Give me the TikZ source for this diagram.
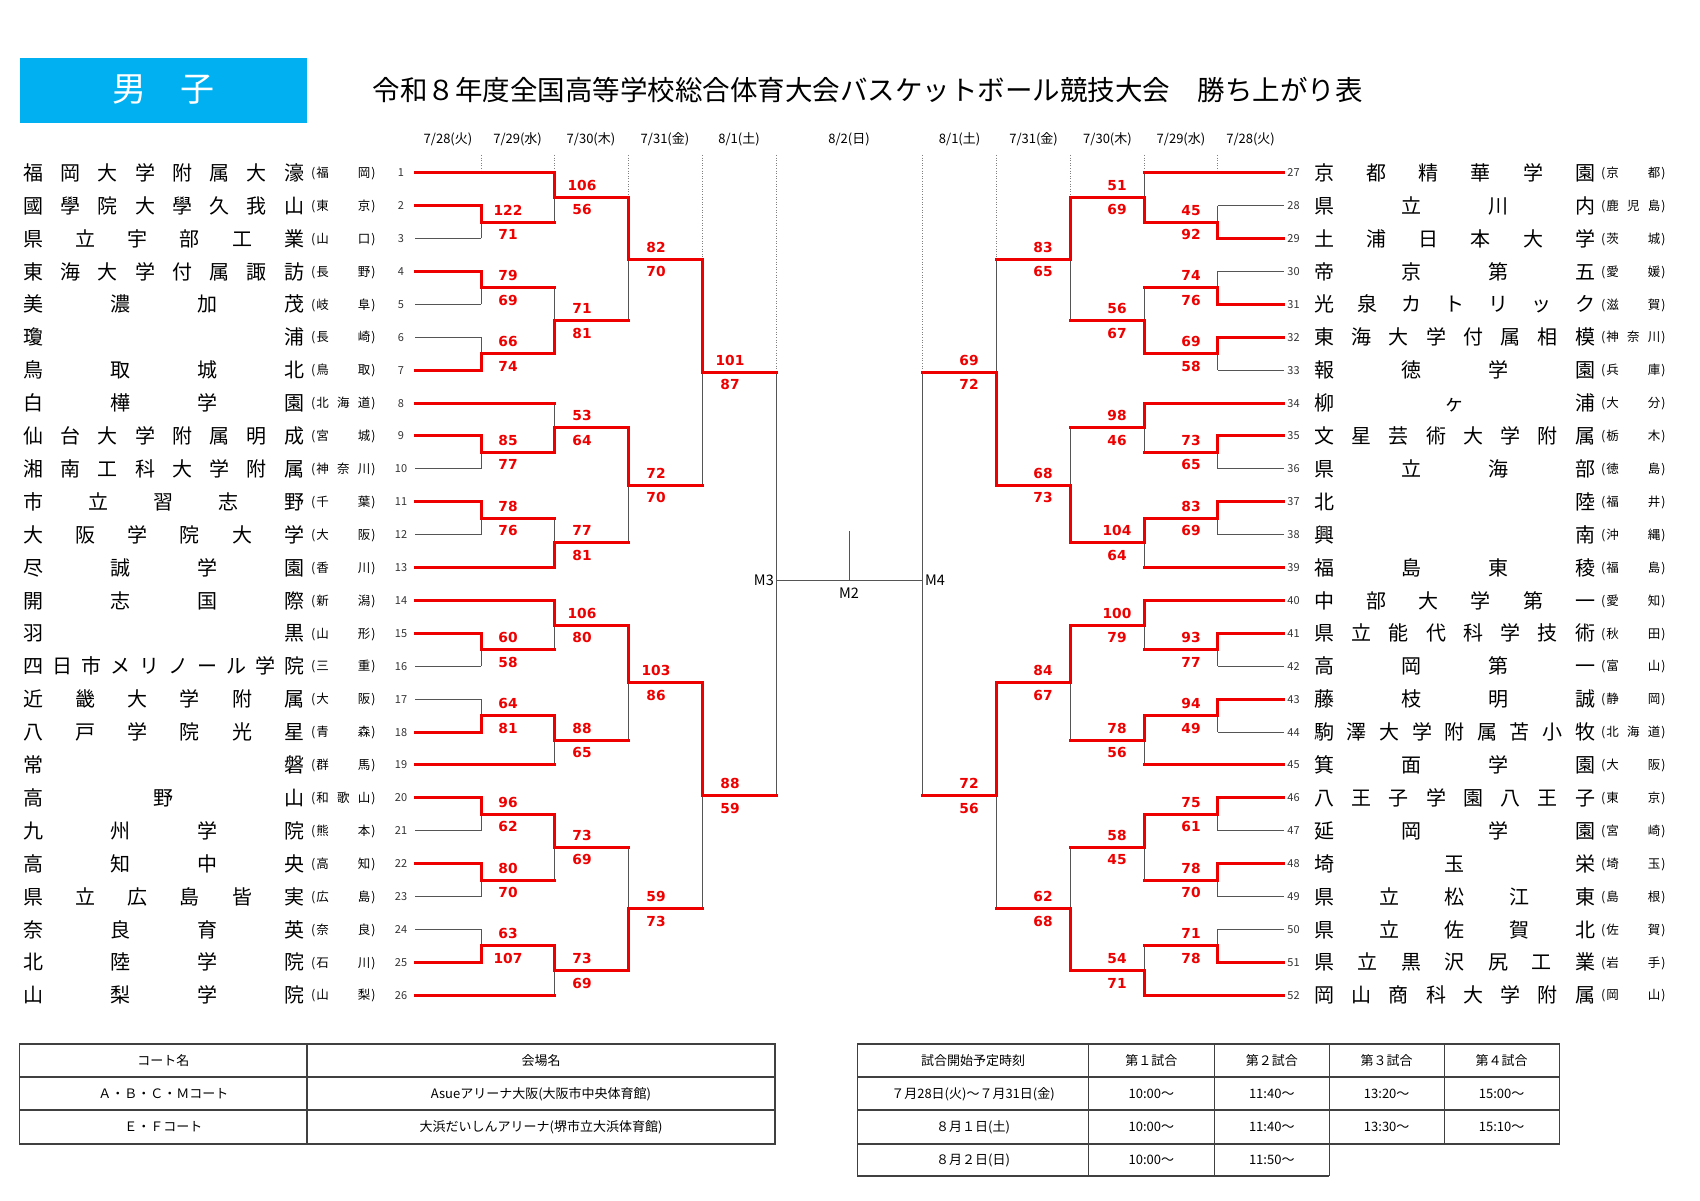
\documentclass[tikz,border=0pt]{standalone}
\usepackage{fontspec}
\setmainfont{Noto Sans CJK JP}
\newfontfamily\scorefont{DejaVu Sans}
\makeatletter
\newcommand\spreadtxt[2]{\hbox to #1{\@tfor\spr@c:=#2\do{\spr@c\hfil}\unskip}}
\makeatother
\pgfdeclarelayer{back}
\pgfdeclarelayer{bg}
\pgfsetlayers{back,bg,main}
\definecolor{hdrblue}{RGB}{0,176,240}
\definecolor{brred}{RGB}{238,0,0}
\definecolor{thingray}{RGB}{85,85,85}
\tikzset{
  winline/.style={draw=brred, line width=3pt, line cap=rect, line join=miter},
  loseline/.style={draw=thingray, line width=1pt},
  guide/.style={draw=gray, line width=0.7pt, dash pattern=on 1pt off 1.6pt},
  score/.style={text=brred, font=\scorefont\bfseries\fontsize{13.8}{13.8}\selectfont, inner sep=0pt, text height=10pt, text depth=0pt},
  tname/.style={font=\fontsize{20}{20}\selectfont, inner sep=0pt, text height=17.6pt, text depth=2.4pt, anchor=west},
  tpref/.style={font=\fontsize{12.5}{12.5}\selectfont, inner sep=0pt, text height=11pt, text depth=1.5pt, anchor=west},
  tnum/.style={font=\fontsize{11}{11}\selectfont, inner sep=0pt, text height=8pt, text depth=0pt, text=black!80},
  dlabel/.style={font=\fontsize{13}{13}\selectfont, inner sep=0pt},
  mlabel/.style={font=\fontsize{14.5}{14.5}\selectfont, inner sep=0pt, text height=10.5pt, text depth=0pt},
  tbl/.style={draw=black!75, line width=1.2pt},
  tcell/.style={font=\fontsize{13}{13}\selectfont, inner sep=0pt, text height=10.5pt, text depth=1.5pt},
}
\newcount\scn
\newcommand\Yrow[1]{172.7+32.9*(#1-1)}
% match: xv, xout, rowTop, rowBot, rowWinner, scoreTop, scoreBot, labelx
\newcommand\bmatch[8]{%
  \pgfmathsetmacro\yT{\Yrow{#3}}%
  \pgfmathsetmacro\yB{\Yrow{#4}}%
  \pgfmathsetmacro\yW{\Yrow{#5}}%
  \pgfmathsetmacro\yM{(\yT+\yB)/2}%
  \pgfmathsetmacro\yL{\yT+\yB-\yW}%
  \begin{pgfonlayer}{bg}\draw[loseline] (#1,\yL) -- (#1,\yM);\end{pgfonlayer}
  \draw[winline] (#1,\yW) -- (#1,\yM) -- (#2,\yM);
  \global\advance\scn by 1
  \node[score] (s\the\scn) at (#8,\yM-12) {#6};
  \global\advance\scn by 1
  \node[score] (s\the\scn) at (#8,\yM+12.5) {#7};
}
\newcommand\redln[3]{\pgfmathsetmacro\yy{\Yrow{#1}}\draw[winline] (#2,\yy) -- (#3,\yy);}
\newcommand\grayln[3]{\pgfmathsetmacro\yy{\Yrow{#1}}\begin{pgfonlayer}{bg}\draw[loseline] (#2,\yy) -- (#3,\yy);\end{pgfonlayer}}
\newcommand\lteam[3]{%
  \pgfmathsetmacro\yy{\Yrow{#1}}%
  \node[tname] (ln#1) at (23,\yy) {\spreadtxt{281pt}{#2}};
  \node[tpref] (lp#1) at (311,\yy) {(\kern1pt\spreadtxt{54pt}{#3}\kern1pt)};
  \node[tnum] (lk#1) at (401,\yy) {#1};
}
\newcommand\rteam[4]{%
  \pgfmathsetmacro\yy{\Yrow{#1}}%
  \node[tname] (rn#2) at (1314,\yy) {\spreadtxt{281pt}{#3}};
  \node[tpref] (rp#2) at (1601,\yy) {(\kern1pt\spreadtxt{54pt}{#4}\kern1pt)};
  \node[tnum] (rk#2) at (1293.5,\yy) {#2};
}
\begin{document}
\begin{tikzpicture}[x=1pt,y=-1pt]
\useasboundingbox (0,0) rectangle (1700,1201);
\begin{pgfonlayer}{back}
\fill[white] (0,0) rectangle (1700,1201);
\end{pgfonlayer}
% header
\fill[hdrblue] (20,58) rectangle (307,123);
\node[font=\fontsize{34}{34}\selectfont, text=white, inner sep=0pt] (hdr) at (163,90) {男　子};
\node[font=\fontsize{27.5}{27.5}\selectfont, inner sep=0pt] (title) at (867.5,90) {令和８年度全国高等学校総合体育大会バスケットボール競技大会　勝ち上がり表};
% date labels
\node[dlabel] (d1) at (448,139) {7/28(火)};
\node[dlabel] (d2) at (517.6,139) {7/29(水)};
\node[dlabel] (d3) at (591,139) {7/30(木)};
\node[dlabel] (d4) at (665,139) {7/31(金)};
\node[dlabel] (d5) at (739,139) {8/1(土)};
\node[dlabel] (d6) at (849,139) {8/2(日)};
\node[dlabel] (d7) at (959.6,139) {8/1(土)};
\node[dlabel] (d8) at (1033.6,139) {7/31(金)};
\node[dlabel] (d9) at (1107.5,139) {7/30(木)};
\node[dlabel] (d10) at (1181,139) {7/29(水)};
\node[dlabel] (d11) at (1250.6,139) {7/28(火)};
% guides
\begin{pgfonlayer}{bg}
\draw[guide] (481,155) -- (481,172.7);
\draw[guide] (554.3,155) -- (554.3,172.7);
\draw[guide] (628,155) -- (628,197.4);
\draw[guide] (702,155) -- (702,258.3);
\draw[guide] (776,155) -- (776,372.2);
\draw[guide] (1217.6,155) -- (1217.6,172.7);
\draw[guide] (1144.3,155) -- (1144.3,172.7);
\draw[guide] (1070.6,155) -- (1070.6,197.4);
\draw[guide] (996.6,155) -- (996.6,258.3);
\draw[guide] (922.6,155) -- (922.6,372.2);
\end{pgfonlayer}
% teams left
\lteam{1}{福岡大学附属大濠}{福岡}
\lteam{2}{國學院大學久我山}{東京}
\lteam{3}{県立宇部工業}{山口}
\lteam{4}{東海大学付属諏訪}{長野}
\lteam{5}{美濃加茂}{岐阜}
\lteam{6}{瓊浦}{長崎}
\lteam{7}{鳥取城北}{鳥取}
\lteam{8}{白樺学園}{北海道}
\lteam{9}{仙台大学附属明成}{宮城}
\lteam{10}{湘南工科大学附属}{神奈川}
\lteam{11}{市立習志野}{千葉}
\lteam{12}{大阪学院大学}{大阪}
\lteam{13}{尽誠学園}{香川}
\lteam{14}{開志国際}{新潟}
\lteam{15}{羽黒}{山形}
\lteam{16}{四日市メリノール学院}{三重}
\lteam{17}{近畿大学附属}{大阪}
\lteam{18}{八戸学院光星}{青森}
\lteam{19}{常磐}{群馬}
\lteam{20}{高野山}{和歌山}
\lteam{21}{九州学院}{熊本}
\lteam{22}{高知中央}{高知}
\lteam{23}{県立広島皆実}{広島}
\lteam{24}{奈良育英}{奈良}
\lteam{25}{北陸学院}{石川}
\lteam{26}{山梨学院}{山梨}
% teams right
\rteam{1}{27}{京都精華学園}{京都}
\rteam{2}{28}{県立川内}{鹿児島}
\rteam{3}{29}{土浦日本大学}{茨城}
\rteam{4}{30}{帝京第五}{愛媛}
\rteam{5}{31}{光泉カトリック}{滋賀}
\rteam{6}{32}{東海大学付属相模}{神奈川}
\rteam{7}{33}{報徳学園}{兵庫}
\rteam{8}{34}{柳ヶ浦}{大分}
\rteam{9}{35}{文星芸術大学附属}{栃木}
\rteam{10}{36}{県立海部}{徳島}
\rteam{11}{37}{北陸}{福井}
\rteam{12}{38}{興南}{沖縄}
\rteam{13}{39}{福島東稜}{福島}
\rteam{14}{40}{中部大学第一}{愛知}
\rteam{15}{41}{県立能代科学技術}{秋田}
\rteam{16}{42}{高岡第一}{富山}
\rteam{17}{43}{藤枝明誠}{静岡}
\rteam{18}{44}{駒澤大学附属苫小牧}{北海道}
\rteam{19}{45}{箕面学園}{大阪}
\rteam{20}{46}{八王子学園八王子}{東京}
\rteam{21}{47}{延岡学園}{宮崎}
\rteam{22}{48}{埼玉栄}{埼玉}
\rteam{23}{49}{県立松江東}{島根}
\rteam{24}{50}{県立佐賀北}{佐賀}
\rteam{25}{51}{県立黒沢尻工業}{岩手}
\rteam{26}{52}{岡山商科大学附属}{岡山}
% team lines left
\foreach \r in {2,4,7,9,11,15,18,20,22,25} {\redln{\r}{415}{481}}
\foreach \r in {3,5,6,10,12,16,17,21,23,24} {\grayln{\r}{415}{481}}
\foreach \r in {1,8,13,14,19,26} {\redln{\r}{415}{554.3}}
% team lines right
\foreach \r in {3,5,6,9,11,15,17,20,22,25} {\redln{\r}{1283.6}{1217.6}}
\foreach \r in {2,4,7,10,12,16,18,21,23,24} {\grayln{\r}{1283.6}{1217.6}}
\foreach \r in {1,8,13,14,19,26} {\redln{\r}{1283.6}{1144.3}}
% left R1
\bmatch{481}{554.3}{2}{3}{2}{122}{71}{508}
\bmatch{481}{554.3}{4}{5}{4}{79}{69}{508}
\bmatch{481}{554.3}{6}{7}{7}{66}{74}{508}
\bmatch{481}{554.3}{9}{10}{9}{85}{77}{508}
\bmatch{481}{554.3}{11}{12}{11}{78}{76}{508}
\bmatch{481}{554.3}{15}{16}{15}{60}{58}{508}
\bmatch{481}{554.3}{17}{18}{18}{64}{81}{508}
\bmatch{481}{554.3}{20}{21}{20}{96}{62}{508}
\bmatch{481}{554.3}{22}{23}{22}{80}{70}{508}
\bmatch{481}{554.3}{24}{25}{25}{63}{107}{508}
% left R2
\bmatch{554.3}{628}{1}{2.5}{1}{106}{56}{582}
\bmatch{554.3}{628}{4.5}{6.5}{6.5}{71}{81}{582}
\bmatch{554.3}{628}{8}{9.5}{9.5}{53}{64}{582}
\bmatch{554.3}{628}{11.5}{13}{13}{77}{81}{582}
\bmatch{554.3}{628}{14}{15.5}{14}{106}{80}{582}
\bmatch{554.3}{628}{17.5}{19}{17.5}{88}{65}{582}
\bmatch{554.3}{628}{20.5}{22.5}{20.5}{73}{69}{582}
\bmatch{554.3}{628}{24.5}{26}{24.5}{73}{69}{582}
% left R3
\bmatch{628}{702}{1.75}{5.5}{1.75}{82}{70}{656}
\bmatch{628}{702}{8.75}{12.25}{8.75}{72}{70}{656}
\bmatch{628}{702}{14.75}{18.25}{14.75}{103}{86}{656}
\bmatch{628}{702}{21.5}{25.25}{25.25}{59}{73}{656}
% left R4
\bmatch{702}{776}{3.625}{10.5}{3.625}{101}{87}{730}
\bmatch{702}{776}{16.5}{23.375}{16.5}{88}{59}{730}
% right R1
\bmatch{1217.6}{1144.3}{2}{3}{3}{45}{92}{1191}
\bmatch{1217.6}{1144.3}{4}{5}{5}{74}{76}{1191}
\bmatch{1217.6}{1144.3}{6}{7}{6}{69}{58}{1191}
\bmatch{1217.6}{1144.3}{9}{10}{9}{73}{65}{1191}
\bmatch{1217.6}{1144.3}{11}{12}{11}{83}{69}{1191}
\bmatch{1217.6}{1144.3}{15}{16}{15}{93}{77}{1191}
\bmatch{1217.6}{1144.3}{17}{18}{17}{94}{49}{1191}
\bmatch{1217.6}{1144.3}{20}{21}{20}{75}{61}{1191}
\bmatch{1217.6}{1144.3}{22}{23}{22}{78}{70}{1191}
\bmatch{1217.6}{1144.3}{24}{25}{25}{71}{78}{1191}
% right R2
\bmatch{1144.3}{1070.6}{1}{2.5}{2.5}{51}{69}{1117}
\bmatch{1144.3}{1070.6}{4.5}{6.5}{6.5}{56}{67}{1117}
\bmatch{1144.3}{1070.6}{8}{9.5}{8}{98}{46}{1117}
\bmatch{1144.3}{1070.6}{11.5}{13}{11.5}{104}{64}{1117}
\bmatch{1144.3}{1070.6}{14}{15.5}{14}{100}{79}{1117}
\bmatch{1144.3}{1070.6}{17.5}{19}{17.5}{78}{56}{1117}
\bmatch{1144.3}{1070.6}{20.5}{22.5}{20.5}{58}{45}{1117}
\bmatch{1144.3}{1070.6}{24.5}{26}{26}{54}{71}{1117}
% right R3
\bmatch{1070.6}{996.6}{1.75}{5.5}{1.75}{83}{65}{1043}
\bmatch{1070.6}{996.6}{8.75}{12.25}{12.25}{68}{73}{1043}
\bmatch{1070.6}{996.6}{14.75}{18.25}{14.75}{84}{67}{1043}
\bmatch{1070.6}{996.6}{21.5}{25.25}{25.25}{62}{68}{1043}
% right R4
\bmatch{996.6}{922.6}{3.625}{10.5}{10.5}{69}{72}{969}
\bmatch{996.6}{922.6}{16.5}{23.375}{16.5}{72}{56}{969}
% finals (not yet played)
\coordinate (m3t) at (776,372.16);
\coordinate (m3b) at (776,795.73);
\coordinate (m3) at (776,580);
\coordinate (m4t) at (922.6,372.16);
\coordinate (m4b) at (922.6,795.73);
\coordinate (m4) at (922.6,580);
\coordinate (m2) at (849,580);
\coordinate (m2top) at (849,531);
\begin{pgfonlayer}{bg}
\draw[loseline] (m3t) -- (m3b);
\draw[loseline] (m4t) -- (m4b);
\draw[loseline] (m3) -- (m4);
\draw[loseline] (m2top) -- (m2);
\end{pgfonlayer}
\node[mlabel, anchor=east] (M3) at (774,580) {M3};
\node[mlabel, anchor=west] (M4) at (925,580) {M4};
\node[mlabel] (M2) at (849,593) {M2};
% left table
\draw[tbl] (19.5,1044) rectangle (775,1144);
\draw[tbl] (19.5,1077) -- (775,1077);
\draw[tbl] (19.5,1110) -- (775,1110);
\draw[tbl] (307,1044) -- (307,1144);
\node[tcell] (ta1) at (163.25,1060.5) {コート名};
\node[tcell] (ta2) at (541,1060.5) {会場名};
\node[tcell] (ta3) at (163.25,1093.5) {Ａ・Ｂ・Ｃ・Ｍコート};
\node[tcell] (ta4) at (541,1093.5) {Asueアリーナ大阪(大阪市中央体育館)};
\node[tcell] (ta5) at (163.25,1127) {Ｅ・Ｆコート};
\node[tcell] (ta6) at (541,1127) {大浜だいしんアリーナ(堺市立大浜体育館)};
% right table
\draw[tbl] (857.6,1044) rectangle (1559.1,1144);
\draw[tbl] (857.6,1077) -- (1559.1,1077);
\draw[tbl] (857.6,1110) -- (1559.1,1110);
\draw[tbl] (1088.5,1044) -- (1088.5,1176);
\draw[tbl] (1214.3,1044) -- (1214.3,1176);
\draw[tbl] (1329.2,1044) -- (1329.2,1176);
\draw[tbl] (1444.2,1044) -- (1444.2,1144);
\draw[tbl] (857.6,1144) -- (857.6,1176) -- (1329.2,1176);
\node[tcell] (tb1) at (973,1060.5) {試合開始予定時刻};
\node[tcell] (tb2) at (1151.4,1060.5) {第１試合};
\node[tcell] (tb3) at (1271.75,1060.5) {第２試合};
\node[tcell] (tb4) at (1386.7,1060.5) {第３試合};
\node[tcell] (tb5) at (1501.65,1060.5) {第４試合};
\node[tcell] (tb6) at (973,1093.5) {７月28日(火)～７月31日(金)};
\node[tcell] (tb7) at (1151.4,1093.5) {10:00～};
\node[tcell] (tb8) at (1271.75,1093.5) {11:40～};
\node[tcell] (tb9) at (1386.7,1093.5) {13:20～};
\node[tcell] (tb10) at (1501.65,1093.5) {15:00～};
\node[tcell] (tb11) at (973,1127) {８月１日(土)};
\node[tcell] (tb12) at (1151.4,1127) {10:00～};
\node[tcell] (tb13) at (1271.75,1127) {11:40～};
\node[tcell] (tb14) at (1386.7,1127) {13:30～};
\node[tcell] (tb15) at (1501.65,1127) {15:10～};
\node[tcell] (tb16) at (973,1160) {８月２日(日)};
\node[tcell] (tb17) at (1151.4,1160) {10:00～};
\node[tcell] (tb18) at (1271.75,1160) {11:50～};
\end{tikzpicture}
\end{document}
